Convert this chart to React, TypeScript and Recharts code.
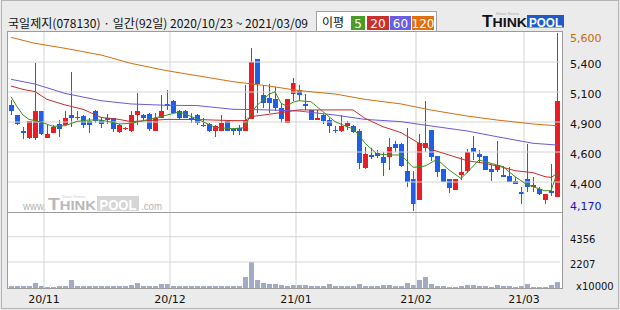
import React from 'react';
import { ComposedChart, Bar, Line, XAxis, YAxis, ReferenceLine } from 'recharts';

// ---------- data ----------
const dates = [
  '2020/10/23','2020/10/26','2020/10/27','2020/10/28','2020/10/29','2020/10/30',
  '2020/11/02','2020/11/03','2020/11/04','2020/11/05','2020/11/06','2020/11/09','2020/11/10','2020/11/11','2020/11/12','2020/11/13',
  '2020/11/16','2020/11/17','2020/11/18','2020/11/19','2020/11/20','2020/11/23','2020/11/24','2020/11/25','2020/11/26','2020/11/27','2020/11/30',
  '2020/12/01','2020/12/02','2020/12/03','2020/12/04','2020/12/07','2020/12/08','2020/12/09','2020/12/10','2020/12/11','2020/12/14',
  '2020/12/15','2020/12/16','2020/12/17','2020/12/18','2020/12/21','2020/12/22','2020/12/23','2020/12/24','2020/12/28','2020/12/29','2020/12/30',
  '2021/01/04','2021/01/05','2021/01/06','2021/01/07','2021/01/08','2021/01/11','2021/01/12','2021/01/13','2021/01/14','2021/01/15',
  '2021/01/18','2021/01/19','2021/01/20','2021/01/21','2021/01/22','2021/01/25','2021/01/26','2021/01/27','2021/01/28','2021/01/29',
  '2021/02/01','2021/02/02','2021/02/03','2021/02/04','2021/02/05','2021/02/08','2021/02/09','2021/02/10','2021/02/15','2021/02/16',
  '2021/02/17','2021/02/18','2021/02/19','2021/02/22','2021/02/23','2021/02/24','2021/02/25','2021/02/26',
  '2021/03/02','2021/03/03','2021/03/04','2021/03/05','2021/03/08','2021/03/09',
];

const opens = [
  5020,4940,4815,4755,4755,4970,4760,4800,4870,4860,
  4940,4915,4935,4890,4970,4905,4915,4915,4805,4825,
  4815,4940,4940,4950,4815,4920,5030,5055,4970,4975,
  4920,4940,4860,4870,4815,4815,4890,4825,4840,4815,
  4910,5390,5100,5080,5070,5000,4880,5110,5140,5030,
  4985,4905,4940,4900,4820,4815,4850,4855,4815,4515,
  4620,4635,4605,4600,4710,4710,4490,4425,4260,4680,
  4820,4610,4505,4430,4340,4460,4495,4675,4625,4610,
  4505,4500,4460,4450,4410,4320,4425,4365,4345,4255,
  4330,4285,
];
const highs = [
  5060,4945,4845,4895,5360,4975,4860,4860,4900,4975,
  5290,4970,4940,4920,4985,4920,4950,4920,4870,4845,
  4970,5115,4950,4955,4960,5100,5140,5065,4985,4985,
  4955,4950,4915,4880,4860,4940,4890,4840,4860,5180,
  5480,5390,5180,5190,5170,5030,5070,5240,5180,5110,
  4985,4980,4950,4920,4850,4940,4890,4860,4825,4685,
  4680,4660,4640,4760,4735,4715,4835,4495,4790,5055,
  4820,4610,4505,4430,4430,4605,4670,4770,4660,4610,
  4540,4735,4530,4525,4445,4365,4710,4440,4365,4305,
  4550,5600,
];
const lows = [
  4940,4860,4745,4750,4740,4780,4760,4795,4765,4860,
  4845,4905,4840,4800,4880,4840,4870,4805,4800,4820,
  4805,4860,4890,4815,4815,4915,4980,4955,4900,4915,
  4875,4860,4845,4805,4765,4815,4815,4780,4780,4815,
  4910,4955,4995,4960,4975,4880,4880,5050,5050,4985,
  4905,4900,4870,4795,4795,4805,4820,4800,4505,4505,
  4585,4595,4455,4500,4645,4525,4360,4170,4260,4645,
  4575,4445,4405,4315,4335,4420,4475,4580,4555,4500,
  4415,4480,4445,4400,4385,4225,4325,4325,4295,4230,
  4290,4285,
];
const closes = [
  4975,4865,4795,4890,4970,4785,4785,4845,4830,4920,
  4920,4925,4860,4860,4890,4870,4900,4830,4860,4840,
  4940,4970,4915,4825,4920,4975,5015,4960,4915,4920,
  4905,4875,4850,4815,4855,4875,4815,4815,4815,4900,
  5370,5190,5040,5040,5000,4910,5070,5200,5100,5010,
  4905,4920,4895,4850,4810,4855,4875,4805,4555,4630,
  4600,4610,4555,4685,4680,4530,4405,4230,4715,4715,
  4600,4480,4405,4355,4425,4480,4645,4640,4605,4500,
  4485,4540,4445,4405,4390,4305,4365,4380,4305,4305,
  4315,5050,
];
// volume, x10000 shares
const volumes = [
  180,180,180,180,420,180,90,90,180,180,
  680,180,180,180,180,180,180,180,180,180,
  270,420,180,180,180,330,330,180,180,180,
  180,180,180,180,180,180,180,180,180,970,
  2207,680,420,330,330,270,180,270,270,270,
  180,180,180,330,180,180,180,180,330,180,
  180,180,270,270,180,180,420,270,680,970,
  330,180,180,90,90,180,270,270,180,180,
  90,270,180,180,90,180,330,90,90,90,
  270,530,
];

// moving averages: [candle index, value]
const ma5Points = [
  [0,5088],[1,5008],[2,4941],[3,4906],[5,4885],[7,4850],[9,4855],[11,4890],[13,4901],[15,4901],
  [17,4880],[18,4869],[20,4874],[23,4906],[26,4941],[28,4965],[29,4949],[31,4910],[34,4842],[37,4831],
  [39,4840],[40,4955],[41,5018],[42,5063],[43,5108],[44,5128],[45,5036],[46,5012],[47,5044],[48,5056],
  [50,5048],[52,4968],[54,4888],[56,4847],[57,4830],[58,4780],[59,4714],[61,4628],[63,4620],[65,4620],
  [67,4521],[69,4531],[71,4585],[73,4500],[75,4432],[76,4478],[78,4580],[80,4553],[82,4526],[84,4446],
  [86,4382],[88,4349],[89,4332],[90,4334],[91,4471],
];
const ma20Points = [
  [0,5174],[2,5147],[4,5129],[6,5067],[9,5022],[12,4987],[15,4922],[18,4906],[20,4888],[26,4906],
  [31,4905],[37,4896],[39,4896],[40,4928],[43,4947],[48,4982],[54,4982],[57,4982],[59,4914],[62,4847],
  [65,4800],[68,4714],[70,4665],[73,4620],[76,4574],[79,4553],[82,4521],[84,4494],[87,4478],[89,4446],
  [90,4440],[91,4470],
];
const ma60Points = [
  [0,5228],[4,5190],[9,5115],[15,5056],[20,5030],[26,5019],[31,5017],[37,4987],[43,4982],[48,4973],
  [54,4941],[59,4906],[65,4888],[70,4853],[76,4813],[81,4767],[87,4714],[91,4700],
];
const ma120Points = [
  [0,5565],[4,5517],[9,5477],[15,5423],[20,5356],[26,5297],[31,5257],[37,5209],[43,5174],[48,5137],
  [54,5110],[59,5067],[65,5030],[70,4981],[76,4933],[81,4901],[87,4869],[91,4855],
];

// axis ticks / labels
const priceGridValues = [5367, 5126, 4885, 4644, 4403];
const priceGridLabels = ['5,400', '5,100', '4,900', '4,600', '4,400'];
const volumeTicks = [4356, 2207];
const volumeTickLabels = ['4356', '2207'];
const monthStarts = ['2020/11/02', '2020/12/01', '2021/01/04', '2021/02/01', '2021/03/02'];
const monthLabels = ['20/11', '20/12', '21/01', '21/02', '21/03'];
const maLegend = [
  { label: '5', color: '#4c9a2a' },
  { label: '20', color: '#c8302c' },
  { label: '60', color: '#6a5ee0' },
  { label: '120', color: '#e07010' },
];

// ---------- styling ----------
const RED = '#ed1c24';
const BLUE = '#1f5fe8';
const GRID = '#d4d4d4';
const MA_COLORS = { ma5: '#3d8f1f', ma20: '#c4302b', ma60: '#6a5bd6', ma120: '#d2700e' };
const NUM_FONT = 'DejaVu Sans';
const PRICE_DOMAIN = [4162, 5608];
const VOLUME_DOMAIN = [0, 6451];

const priceMax = Math.max(...highs);
const priceMin = Math.min(...lows);

const rows = dates.map((date, i) => ({
  date,
  open: opens[i],
  high: highs[i],
  low: lows[i],
  close: closes[i],
  range: [lows[i], highs[i]],
  vol: volumes[i],
  ma5: null as number | null,
  ma20: null as number | null,
  ma60: null as number | null,
  ma120: null as number | null,
}));
const applyMA = (key: 'ma5' | 'ma20' | 'ma60' | 'ma120', pts: number[][]) => {
  pts.forEach(([i, v]) => { rows[i][key] = v; });
};
applyMA('ma5', ma5Points);
applyMA('ma20', ma20Points);
applyMA('ma60', ma60Points);
applyMA('ma120', ma120Points);

const fmt = (v: number) => v.toLocaleString('en-US');

const Candle = (props: any) => {
  const { x, y, width, height, payload } = props;
  if (!payload || x == null) return null;
  const top = Math.min(y, y + height);
  const h = Math.abs(height);
  const { open, close, high, low } = payload;
  const up = close >= open;
  const color = up ? RED : BLUE;
  const k = high === low ? 0 : h / (high - low);
  const yOf = (v: number) => top + (high - v) * k;
  const bTop = yOf(Math.max(open, close));
  const bBot = yOf(Math.min(open, close));
  const slot = Math.round(x + width / 2 - 3);
  return (
    <g>
      <rect x={slot + 3} y={top} width={1} height={Math.max(1, h)} fill={color} shapeRendering="crispEdges" />
      <rect x={slot + 1} y={bTop} width={5} height={Math.max(1, bBot - bTop)} fill={color} shapeRendering="crispEdges" />
    </g>
  );
};

const VolBar = (props: any) => {
  const { x, y, width, height } = props;
  if (x == null) return null;
  const top = Math.min(y, y + height);
  const slot = Math.round(x + width / 2 - 3);
  return <rect x={slot + 1} y={top} width={5} height={Math.abs(height)} fill="#a2aac4" shapeRendering="crispEdges" />;
};

const PriceTick = (props: any) => {
  const { x, y, payload } = props;
  const v = payload.value;
  let label = '';
  let color = '#111';
  let dy = 6;
  if (v === priceMax) { label = fmt(v); color = '#c8690a'; dy = 9; }
  else if (v === priceMin) { label = fmt(v); color = '#1414c8'; dy = -1; }
  else { label = priceGridLabels[priceGridValues.indexOf(v)]; }
  return (
    <text x={x} y={y + dy} fontFamily={NUM_FONT} fontSize={11} fill={color} textAnchor="start">{label}</text>
  );
};

const VolTick = (props: any) => {
  const { x, y, payload } = props;
  const label = volumeTickLabels[volumeTicks.indexOf(payload.value)];
  return <text x={x} y={y + 6} fontFamily={NUM_FONT} fontSize={10} fill="#111" textAnchor="start">{label}</text>;
};

const MonthTick = (props: any) => {
  const { x, y, payload } = props;
  const idx = monthStarts.indexOf(payload.value);
  if (idx < 0) return null;
  return <text x={x - 3} y={y + 7} fontFamily={NUM_FONT} fontSize={11} fill="#111" textAnchor="middle">{monthLabels[idx]}</text>;
};

const Background = () => (
  <svg width={620} height={310} style={{ position: 'absolute', left: 0, top: 0 }}>
    <rect x={0} y={0} width={620} height={310} fill="#ebebeb" />
    <rect x={1.5} y={0.5} width={617} height={308} fill="none" stroke="#b4b4b4" />
    <rect x={7} y={31} width={556} height={258} fill="#ffffff" />
    {/* title */}
    <text x={8} y={27.5} fontFamily="Noto Sans CJK KR" fontSize={12} fill="#111" textLength={300} lengthAdjust="spacingAndGlyphs">
      국일제지(078130) · 일간(92일) 2020/10/23 ~ 2021/03/09
    </text>
    {/* MA legend */}
    <rect x={316.5} y={11.5} width={120} height={20} fill="#ffffff" stroke="#a0a0a0" />
    <text x={322} y={27} fontFamily="Noto Sans CJK KR" fontSize={12} fill="#111">이평</text>
    {maLegend.map((m, i) => {
      const xs = [351, 367, 390, 412];
      const ws = [14, 22, 21, 22];
      return (
        <g key={m.label}>
          <rect x={xs[i]} y={16} width={ws[i]} height={14} fill={m.color} />
          <text x={xs[i] + ws[i] / 2} y={27.5} fontFamily={NUM_FONT} fontSize={12} fill="#ffffff" textAnchor="middle">{m.label}</text>
        </g>
      );
    })}
    {/* logo */}
    <text x={496} y={14.5} fontFamily="Liberation Sans" fontSize={4} fill="#aaaaaa">Smart Sense</text>
    <text x={482} y={27} fontFamily="Liberation Sans" fontWeight="bold" fontSize={13} fill="#111" textLength={45} lengthAdjust="spacingAndGlyphs">
      <tspan fontSize={16}>T</tspan>HINK
    </text>
    <rect x={527} y={15} width={37} height={12.5} fill="#1e5bc6" />
    <text x={545.5} y={26.5} fontFamily="Liberation Sans" fontWeight="bold" fontSize={13} fill="#ffffff" textAnchor="middle" textLength={33} lengthAdjust="spacingAndGlyphs">POOL</text>
    {/* watermark */}
    <text x={62} y={197.5} fontFamily="Liberation Sans" fontSize={4} fill="#cccccc">Smart Sense</text>
    <text x={23} y={210} fontFamily="Liberation Sans" fontSize={10} fill="#b4b4b4" textLength={23} lengthAdjust="spacingAndGlyphs">www.</text>
    <text x={48} y={210} fontFamily="Liberation Sans" fontWeight="bold" fontSize={13} fill="#b8b8b8" textLength={48} lengthAdjust="spacingAndGlyphs">
      <tspan fontSize={17}>T</tspan>HINK
    </text>
    <rect x={97} y={196} width={42} height={15} fill="#d6d6d6" />
    <text x={118} y={210} fontFamily="Liberation Sans" fontWeight="bold" fontSize={14} fill="#ffffff" textAnchor="middle" textLength={37} lengthAdjust="spacingAndGlyphs">POOL</text>
    <text x={141} y={210} fontFamily="Liberation Sans" fontSize={10} fill="#b4b4b4" textLength={21} lengthAdjust="spacingAndGlyphs">.com</text>
  </svg>
);

const Overlay = () => (
  <svg width={620} height={310} style={{ position: 'absolute', left: 0, top: 0, pointerEvents: 'none' }}>
    <rect x={7.5} y={31.5} width={555} height={257} fill="none" stroke="#9c9c9c" />
    <line x1={7.5} y1={212.5} x2={562.5} y2={212.5} stroke="#9c9c9c" />
    <text x={576} y={290} fontFamily={NUM_FONT} fontSize={10} fill="#111">x10000</text>
  </svg>
);

export default function App() {
  return (
    <div style={{ position: 'absolute', left: 0, top: 0, width: 620, height: 310, overflow: 'hidden' }}>
      <Background />
      <div style={{ position: 'absolute', left: 0, top: 0 }}>
        <ComposedChart width={620} height={212} data={rows} margin={{ top: 32, right: 2, bottom: 0, left: 8 }} barCategoryGap={0} barGap={0}>
          <XAxis dataKey="date" hide />
          <YAxis
            yAxisId="p"
            orientation="right"
            width={58}
            domain={PRICE_DOMAIN}
            ticks={[priceMax, ...priceGridValues, priceMin]}
            interval={0}
            allowDataOverflow
            axisLine={false}
            tickLine={false}
            tickSize={0}
            tickMargin={10}
            tick={<PriceTick />}
          />
          {priceGridValues.map((v) => (
            <ReferenceLine key={v} yAxisId="p" y={v} stroke={GRID} strokeWidth={1} />
          ))}
          {monthStarts.map((d) => (
            <ReferenceLine key={d} yAxisId="p" x={d} stroke={GRID} strokeWidth={1} position="start" />
          ))}
          <Line yAxisId="p" dataKey="ma120" stroke={MA_COLORS.ma120} strokeWidth={1} dot={false} activeDot={false} connectNulls isAnimationActive={false} />
          <Line yAxisId="p" dataKey="ma60" stroke={MA_COLORS.ma60} strokeWidth={1} dot={false} activeDot={false} connectNulls isAnimationActive={false} />
          <Line yAxisId="p" dataKey="ma20" stroke={MA_COLORS.ma20} strokeWidth={1} dot={false} activeDot={false} connectNulls isAnimationActive={false} />
          <Line yAxisId="p" dataKey="ma5" stroke={MA_COLORS.ma5} strokeWidth={1} dot={false} activeDot={false} connectNulls isAnimationActive={false} />
          <Bar yAxisId="p" dataKey="range" shape={<Candle />} isAnimationActive={false} />
        </ComposedChart>
      </div>
      <div style={{ position: 'absolute', left: 0, top: 212 }}>
        <ComposedChart width={620} height={98} data={rows} margin={{ top: 0, right: 2, bottom: 0, left: 8 }} barCategoryGap={0} barGap={0}>
          <XAxis
            dataKey="date"
            height={22}
            ticks={monthStarts}
            interval={0}
            axisLine={false}
            tickLine={false}
            tick={<MonthTick />}
          />
          <YAxis
            yAxisId="v"
            orientation="right"
            width={58}
            domain={VOLUME_DOMAIN}
            ticks={volumeTicks}
            interval={0}
            allowDataOverflow
            axisLine={false}
            tickLine={false}
            tickSize={0}
            tickMargin={10}
            tick={<VolTick />}
          />
          {volumeTicks.map((v) => (
            <ReferenceLine key={v} yAxisId="v" y={v} stroke={GRID} strokeWidth={1} />
          ))}
          {monthStarts.map((d) => (
            <ReferenceLine key={d} yAxisId="v" x={d} stroke={GRID} strokeWidth={1} position="start" />
          ))}
          <Bar yAxisId="v" dataKey="vol" shape={<VolBar />} isAnimationActive={false} />
        </ComposedChart>
      </div>
      <Overlay />
    </div>
  );
}
